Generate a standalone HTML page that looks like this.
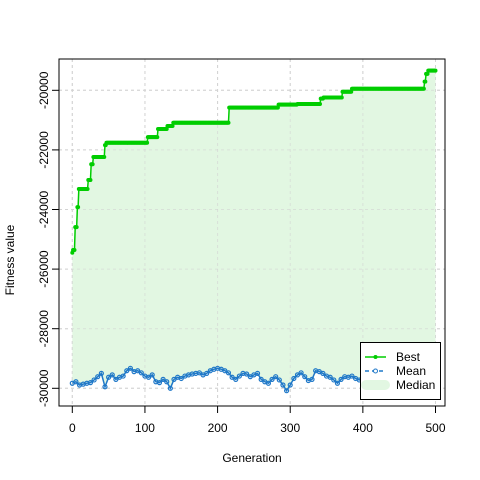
<!DOCTYPE html>
<html><head><meta charset="utf-8"><style>
body{margin:0;background:#fff;}
svg{display:block;font-family:"Liberation Sans",Arial,sans-serif;}
</style></head><body>
<svg id="c" width="480" height="480" viewBox="0 0 480 480"></svg>
<script>
// Best fitness: step changes [generation, value]
const bestStepGens = [0,1,4,7,9,22,26,29,45,47,104,118,131,139,216,284,310,342,346,372,385,485,487,490];
const bestStepVals = [-25450,-25360,-24590,-23920,-23310,-23010,-22480,-22240,-21840,-21760,-21570,-21300,-21200,-21090,-20580,-20480,-20460,-20280,-20240,-20050,-19950,-19710,-19450,-19340];
// Mean fitness sampled every 5 generations
const meanGens = [0,5,10,15,20,25,30,35,40,45,50,55,60,65,70,75,80,85,90,95,100,105,110,115,120,125,130,135,140,145,150,155,160,165,170,175,180,185,190,195,200,205,210,215,220,225,230,235,240,245,250,255,260,265,270,275,280,285,290,295,300,305,310,315,320,325,330,335,340,345,350,355,360,365,370,375,380,385,390,395,400,405,410,415,420,425,430,435,440,445,450,455,460,465,470,475,480,485,490,495,500];
const meanVals = [-29830,-29780,-29890,-29860,-29830,-29810,-29720,-29610,-29500,-29950,-29630,-29550,-29700,-29630,-29590,-29410,-29330,-29440,-29410,-29480,-29590,-29630,-29550,-29780,-29810,-29700,-29780,-30000,-29700,-29630,-29670,-29590,-29550,-29520,-29500,-29480,-29550,-29500,-29410,-29360,-29330,-29360,-29410,-29480,-29630,-29700,-29590,-29500,-29520,-29610,-29550,-29500,-29700,-29780,-29830,-29700,-29610,-29720,-29890,-30080,-29890,-29670,-29550,-29480,-29610,-29740,-29700,-29410,-29440,-29500,-29590,-29630,-29720,-29830,-29700,-29610,-29630,-29590,-29670,-29720,-29610,-29630,-29700,-29590,-29610,-29550,-29500,-29610,-29630,-29590,-29550,-29610,-29500,-29550,-29610,-29500,-29550,-29610,-29500,-29520,-29590];
const xTicks = [0,100,200,300,400,500];
const yTicks = [-30000,-28000,-26000,-24000,-22000,-20000];

const svg = document.getElementById('c');
const NS = 'http://www.w3.org/2000/svg';
const X = g => 72.3 + g * 0.7264;
const Y = v => 388.3 - (v + 30000) / 2000 * 59.6;
function mk(tag, attrs, parent) {
  const e = document.createElementNS(NS, tag);
  for (const k in attrs) e.setAttribute(k, attrs[k]);
  (parent || svg).appendChild(e);
  return e;
}
// expand best steps per generation
const bestGens = [], bestVals = [];
for (let g = 0; g <= 500; g++) {
  let v = bestStepVals[0];
  for (let i = 0; i < bestStepGens.length; i++) if (bestStepGens[i] <= g) v = bestStepVals[i];
  bestGens.push(g); bestVals.push(v);
}
// grid
const grid = mk('g', {});


xTicks.forEach(t => mk('line', {x1: X(t), x2: X(t), y1: 59, y2: 406, stroke: '#d3d3d3', 'stroke-dasharray': '3,3'}, grid));
yTicks.forEach(t => mk('line', {x1: 59, x2: 445, y1: Y(t), y2: Y(t), stroke: '#d3d3d3', 'stroke-dasharray': '3,3'}, grid));
// fill between best and mean
let pts = bestGens.map((g, i) => X(g) + ',' + Y(bestVals[i]));
for (let i = meanGens.length - 1; i >= 0; i--) pts.push(X(meanGens[i]) + ',' + Y(meanVals[i]));
const fill = mk('polygon', {points: pts.join(' '), fill: '#e2f7e2'});


// redraw grid lightly over fill
xTicks.forEach(t => mk('line', {x1: X(t), x2: X(t), y1: 59, y2: 406, stroke: '#d3d3d3', 'stroke-dasharray': '3,3', opacity: 0.6}));
yTicks.forEach(t => mk('line', {x1: 59, x2: 445, y1: Y(t), y2: Y(t), stroke: '#d3d3d3', 'stroke-dasharray': '3,3', opacity: 0.6}));
// mean series
const mg = mk('g', {});


mk('polyline', {points: meanGens.map((g, i) => X(g) + ',' + Y(meanVals[i])).join(' '), fill: 'none', stroke: '#1f78c8', 'stroke-width': 1.5}, mg);
meanGens.forEach((g, i) => mk('circle', {cx: X(g), cy: Y(meanVals[i]), r: 2, fill: 'none', stroke: '#1f78c8', 'stroke-width': 1.2}, mg));
// best series
const bg = mk('g', {});


mk('polyline', {points: bestGens.map((g, i) => X(g) + ',' + Y(bestVals[i])).join(' '), fill: 'none', stroke: '#00cd00', 'stroke-width': 1.5}, bg);
bestGens.forEach((g, i) => mk('circle', {cx: X(g), cy: Y(bestVals[i]), r: 2, fill: '#00cd00'}, bg));
// box
const box = mk('rect', {x: 59, y: 59, width: 386, height: 347, fill: 'none', stroke: '#000', 'stroke-width': 1});


// axes
const xa = mk('g', {});


mk('line', {x1: X(0), x2: X(500), y1: 406, y2: 406, stroke: '#000'}, xa);
xTicks.forEach(t => {
  mk('line', {x1: X(t), x2: X(t), y1: 406, y2: 413, stroke: '#000'}, xa);
  const tx = mk('text', {x: X(t), y: 432, 'font-size': 12, 'text-anchor': 'middle'}, xa);
  tx.textContent = t;
});
const ya = mk('g', {});


mk('line', {x1: 59, x2: 59, y1: Y(-30000), y2: Y(-20000), stroke: '#000'}, ya);
yTicks.forEach(t => {
  mk('line', {x1: 52, x2: 59, y1: Y(t), y2: Y(t), stroke: '#000'}, ya);
  const tx = mk('text', {x: 48, y: Y(t), 'font-size': 12, 'text-anchor': 'middle', transform: 'rotate(-90 48 ' + Y(t) + ')'}, ya);
  tx.textContent = t;
});
</script>
<svg style="position:absolute;left:0;top:0" width="480" height="480" font-family="Liberation Sans, Arial, sans-serif">
  <text x="252" y="462" font-size="12" text-anchor="middle">Generation</text>
  <text x="14" y="260" font-size="12" text-anchor="middle" transform="rotate(-90 14 260)">Fitness value</text>
  <g>
    <rect x="360.5" y="342.5" width="80" height="57" fill="#fff" stroke="#000"/>
    <g>
      <line x1="365" x2="386" y1="357" y2="357" stroke="#00cd00" stroke-width="1.5"/>
      <circle cx="375.5" cy="357" r="2" fill="#00cd00"/>
      <text x="396" y="361" font-size="12">Best</text>
    </g>
    <g>
      <line x1="365" x2="386" y1="371" y2="371" stroke="#1f78c8" stroke-width="1.5" stroke-dasharray="4,3"/>
      <circle cx="375.5" cy="371" r="2" fill="#fff" stroke="#1f78c8"/>
      <text x="396" y="375" font-size="12">Mean</text>
    </g>
    <g>
      <line x1="366" x2="385" y1="385" y2="385" stroke="#e2f7e2" stroke-width="10" stroke-linecap="round"/>
      <text x="396" y="389" font-size="12">Median</text>
    </g>
  </g>
</svg>
</body></html>
